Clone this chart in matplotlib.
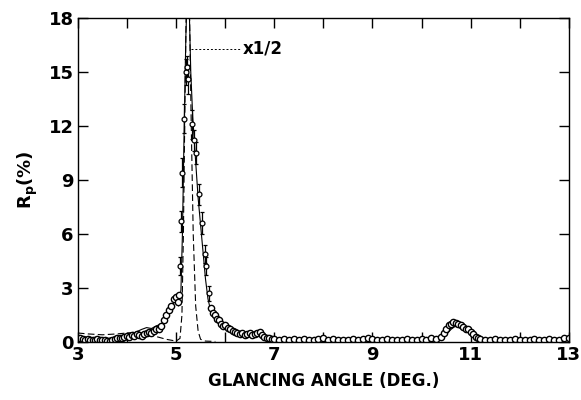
import matplotlib.pyplot as plt

# measured reflectivity (open circles)
ang = [3.00, 3.05, 3.10, 3.15, 3.20, 3.25, 3.30, 3.35, 3.40, 3.45, 3.50, 3.55, 3.60, 3.65,
       3.70, 3.75, 3.80, 3.85, 3.90, 3.95, 4.00, 4.05, 4.10, 4.15, 4.20, 4.25, 4.30, 4.35,
       4.40, 4.45, 4.50, 4.55, 4.60, 4.65, 4.70, 4.75, 4.80, 4.85, 4.90, 4.95, 5.00, 5.03,
       5.06, 5.72, 5.76, 5.80, 5.84, 5.88, 5.92, 5.96, 6.00, 6.05, 6.10, 6.15, 6.20, 6.25,
       6.30, 6.35, 6.40, 6.45, 6.50, 6.55, 6.60, 6.65, 6.70, 6.75, 6.80, 6.85, 6.90, 6.95,
       7.0, 7.1, 7.2, 7.3, 7.4, 7.5, 7.6, 7.7, 7.8, 7.9, 8.0, 8.1, 8.2, 8.3, 8.4, 8.5, 8.6,
       8.7, 8.8, 8.9, 9.0, 9.1, 9.2, 9.3, 9.4, 9.5, 9.6, 9.7, 9.8, 9.9, 10.0, 10.1, 10.2,
       10.3, 10.4, 10.45, 10.5, 10.55, 10.6, 10.65, 10.7, 10.75, 10.8, 10.85, 10.9, 10.95,
       11.0, 11.05, 11.1, 11.15, 11.2, 11.3, 11.4, 11.5, 11.6, 11.7, 11.8, 11.9, 12.0, 12.1,
       12.2, 12.3, 12.4, 12.5, 12.6, 12.7, 12.8, 12.9, 13.0]
rp = [0.15, 0.2, 0.15, 0.1, 0.15, 0.1, 0.12, 0.1, 0.15, 0.1, 0.1, 0.12, 0.05, 0.05,
      0.1, 0.15, 0.2, 0.25, 0.2, 0.3, 0.35, 0.3, 0.4, 0.35, 0.45, 0.4, 0.35, 0.45,
      0.5, 0.55, 0.5, 0.6, 0.7, 0.75, 0.9, 1.2, 1.5, 1.8, 2.0, 2.4, 2.5, 2.2,
      2.6, 1.9, 1.6, 1.5, 1.3, 1.2, 1.0, 0.9, 0.95, 0.8, 0.75, 0.6, 0.55, 0.5,
      0.45, 0.5, 0.4, 0.45, 0.5, 0.4, 0.45, 0.5, 0.55, 0.4, 0.3, 0.25, 0.2, 0.15,
      0.15, 0.1, 0.15, 0.12, 0.15, 0.1, 0.15, 0.12, 0.1, 0.15, 0.2, 0.12, 0.15, 0.1, 0.12, 0.1, 0.15,
      0.12, 0.15, 0.2, 0.15, 0.12, 0.1, 0.15, 0.12, 0.1, 0.12, 0.15, 0.12, 0.1, 0.15, 0.12, 0.2,
      0.15, 0.3, 0.5, 0.75, 0.95, 1.0, 1.1, 1.05, 1.0, 0.95, 0.85, 0.75, 0.7,
      0.55, 0.45, 0.3, 0.2, 0.15, 0.1, 0.12, 0.15, 0.1, 0.12, 0.1, 0.15, 0.12, 0.1,
      0.12, 0.15, 0.1, 0.12, 0.15, 0.1, 0.12, 0.2, 0.25]

# points near the peak, with error bars
pk_ang = [5.08, 5.10, 5.13, 5.16, 5.20, 5.22, 5.24, 5.33, 5.37, 5.40, 5.47, 5.53, 5.58, 5.62, 5.67]
pk_rp = [4.2, 6.7, 9.4, 12.4, 15.0, 15.3, 14.6, 12.1, 11.2, 10.5, 8.2, 6.6, 4.9, 4.2, 2.7]
pk_err = [0.5, 0.6, 0.8, 0.8, 0.7, 0.6, 0.8, 0.8, 0.6, 0.6, 0.6, 0.6, 0.5, 0.5, 0.4]

# calculated curve (solid)
calc_ang = [3.0, 3.3, 3.6, 3.9, 4.1, 4.3, 4.4, 4.5, 4.6, 4.7, 4.8, 4.9, 5.0, 5.05, 5.1,
            5.13, 5.16, 5.2, 5.23, 5.26, 5.3, 5.34, 5.4, 5.45, 5.5, 5.55, 5.6, 5.65, 5.7,
            5.8, 5.9, 6.0, 6.2, 6.4, 6.7, 7.0, 7.5, 8.0, 9.0, 10.0, 10.4, 10.5, 10.6,
            10.7, 10.8, 10.9, 11.0, 11.1, 11.2, 11.5, 12.0, 13.0]
calc_rp = [0.3, 0.25, 0.2, 0.3, 0.45, 0.7, 0.8, 0.75, 0.9, 1.0, 1.3, 1.8, 2.5, 2.0, 2.9,
           6.0, 11.0, 17.0, 19.5, 19.5, 15.0, 12.5, 10.0, 8.0, 6.5, 5.0, 3.5, 2.4, 1.8,
           1.4, 1.1, 0.9, 0.6, 0.45, 0.35, 0.2, 0.15, 0.1, 0.1, 0.1, 0.15, 0.4, 0.7,
           0.9, 0.85, 0.7, 0.5, 0.3, 0.12, 0.1, 0.1, 0.12]

# second calculation, dashed (peak shown x1/2)
half_ang = [3.0, 3.2, 3.5, 3.8, 4.0, 4.2, 4.4, 4.6, 4.8, 5.0, 5.08, 5.12, 5.15, 5.18, 5.21,
            5.27, 5.31, 5.35, 5.4, 5.45, 5.5, 5.6, 5.8]
half_rp = [0.5, 0.45, 0.4, 0.45, 0.5, 0.55, 0.45, 0.3, 0.15, 0.05, 0.2, 1.5, 6.0, 13.0, 19.0,
           19.0, 12.0, 6.0, 2.0, 0.6, 0.15, 0.05, 0.03]

fig = plt.figure(figsize=(5.81, 4.0), dpi=100)
ax = fig.add_axes([0.134, 0.145, 0.845, 0.81])

ax.plot(calc_ang, calc_rp, color='black', lw=0.8)
ax.plot(half_ang, half_rp, color='black', lw=0.8, ls=(0, (6, 3)))
ax.plot(ang, rp, 'o', mfc='white', mec='black', ms=4.5, mew=1.0)
ax.errorbar(pk_ang, pk_rp, yerr=pk_err, fmt='o', mfc='white', mec='black', ms=3.5,
            mew=0.9, ecolor='black', elinewidth=0.9, capsize=1.5)

# x1/2 label with leader
ax.plot([5.3, 6.3], [16.3, 16.3], color='black', lw=0.7, ls=(0, (2, 2)))
ax.text(6.35, 16.3, 'x1/2', fontsize=12, fontweight='bold', va='center', ha='left')

ax.set_xlim(3, 13)
ax.set_ylim(0, 18)
ax.set_xticks([3, 5, 7, 9, 11, 13])
ax.set_xticks([4, 6, 8, 10, 12], minor=True)
ax.set_yticks([0, 3, 6, 9, 12, 15, 18])
ax.tick_params(which='both', direction='in', top=True, right=True, length=7, width=1,
               labelsize=13, pad=3)
for lab in ax.get_xticklabels() + ax.get_yticklabels():
    lab.set_fontweight('bold')
for s in ax.spines.values():
    s.set_linewidth(1)

ax.set_xlabel('GLANCING ANGLE (DEG.)', fontsize=12, fontweight='bold', labelpad=6)
ax.set_ylabel(r'R$_\mathbf{p}$(%)', fontsize=13, fontweight='bold', labelpad=6)

fig.savefig('out.png', dpi=100)
